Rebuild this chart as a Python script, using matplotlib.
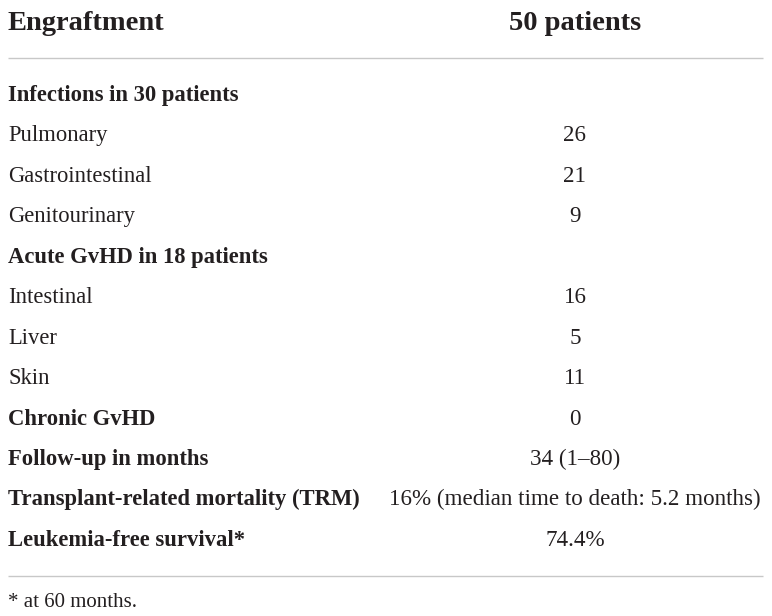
import matplotlib
matplotlib.use("Agg")
import matplotlib.pyplot as plt

plt.rcParams["font.family"] = ["Liberation Serif", "DejaVu Serif"]

# table content
header = ["Engraftment", "50 patients"]
labels = ["Infections in 30 patients", "Pulmonary", "Gastrointestinal", "Genitourinary",
          "Acute GvHD in 18 patients", "Intestinal", "Liver", "Skin",
          "Chronic GvHD", "Follow-up in months", "Transplant-related mortality (TRM)",
          "Leukemia-free survival*"]
values = ["", "26", "21", "9", "", "16", "5", "11", "0", "34 (1\u201380)",
          "16% (median time to death: 5.2 months)", "74.4%"]
bold_rows = [True, False, False, False, True, False, False, False,
             True, True, True, True]
footnote = "* at 60 months."

W, H = 772, 616
fig = plt.figure(figsize=(W / 100, H / 100), dpi=100)
ax = fig.add_axes([0, 0, 1, 1])
ax.set_xlim(0, W)
ax.set_ylim(H, 0)
ax.axis("off")

txt = "#231f20"
rule = "#c8c8c8"
x_left, x_mid = 8, 575
first_base, step = 101, 40.45

ax.text(x_left, 30, header[0], fontsize=20.5, fontweight="bold", color=txt,
        ha="left", va="baseline")
ax.text(x_mid, 30, header[1], fontsize=20.5, fontweight="bold", color=txt,
        ha="center", va="baseline")
ax.plot([x_left, 763], [58, 58], color=rule, lw=1.0, solid_capstyle="butt")

for i, (lab, val, b) in enumerate(zip(labels, values, bold_rows)):
    yb = first_base + i * step
    ax.text(x_left, yb, lab, fontsize=16.3, fontweight="bold" if b else "normal",
            color=txt, ha="left", va="baseline")
    if val:
        ax.text(x_mid, yb, val, fontsize=16.6, color=txt, ha="center", va="baseline")

ax.plot([x_left, 763], [576, 576], color=rule, lw=1.0, solid_capstyle="butt")
ax.text(x_left, 607, footnote, fontsize=15, color=txt, ha="left", va="baseline")

fig.savefig("out.png", dpi=100)
